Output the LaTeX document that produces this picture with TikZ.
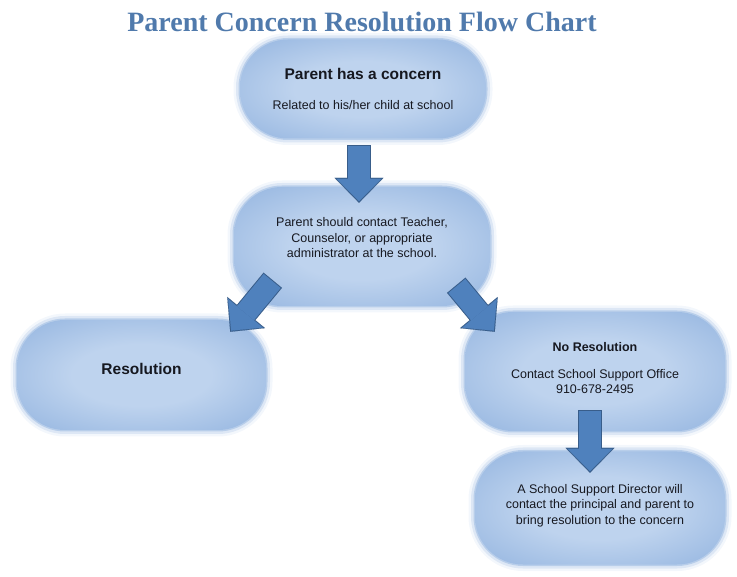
\documentclass[tikz,border=0pt]{standalone}
\usepackage{fontspec}
\setmainfont{Liberation Sans}
\newfontfamily\titlefont{Liberation Serif}
\usetikzlibrary{arrows.meta}

\definecolor{titleblue}{RGB}{80,122,172}
\definecolor{bubbleedge}{RGB}{140,175,221}
\definecolor{bubblemid}{RGB}{190,211,238}
\definecolor{arrowfill}{RGB}{79,129,189}
\definecolor{arrowline}{RGB}{56,93,138}
\definecolor{textdark}{RGB}{22,24,32}

\pgfdeclareradialshading{bubbleglow}{\pgfpoint{0bp}{0bp}}{color(0bp)=(bubblemid); color(14bp)=(bubblemid); color(40bp)=(bubbleedge); color(50bp)=(bubbleedge)}

\newcommand\bubblehead[1]{{\bfseries\fontsize{15.5}{18}\selectfont #1}}

\begin{document}
\begin{tikzpicture}[x=1pt, y=1pt,
                    bubble/.style={shade, shading=bubbleglow, rounded corners=48pt, align=center,
                        text=textdark, font=\fontsize{12.5}{15.5}\selectfont,
                        preaction={draw=bubbleedge, draw opacity=0.1, line width=13pt},
                        preaction={draw=bubbleedge, draw opacity=0.22, line width=8pt},
                        preaction={draw=bubbleedge, draw opacity=0.45, line width=3pt}},
                    blockarrow/.style={draw=arrowfill, line width=22pt, shorten <=1pt, shorten >=1.5pt,
                        -{Triangle[width=45pt, length=22.5pt, line width=0.1pt]},
                        preaction={draw=arrowline, line width=24pt, shorten <=0pt, shorten >=0pt,
                            -{Triangle[width=49pt, length=25pt, line width=0.1pt]}}}]
                \useasboundingbox (0,0) rectangle (737,-577);

                \node (title) [anchor=base, text=titleblue, font=\titlefont\bfseries\fontsize{28}{32}\selectfont]
                    at (362,-32) {Parent Concern Resolution Flow Chart};

                \node (concern) [bubble, minimum width=246pt, minimum height=99pt] at (363,-89)
                    {\bubblehead{Parent has a concern}\\[14pt] Related to his/her child at school};
                \node (contact) [bubble, minimum width=256pt, minimum height=119pt, text depth=18pt] at (362,-246.5)
                    {Parent should contact Teacher,\\ Counselor, or appropriate\\ administrator at the school.};
                \node (resolution) [bubble, minimum width=249pt, minimum height=110pt, text depth=12pt] at (141.5,-375)
                    {\bubblehead{Resolution}};
                \node (noresolution) [bubble, minimum width=260pt, minimum height=119pt, text depth=8pt,
                    font=\fontsize{12.5}{14.5}\selectfont] at (595,-371.5)
                    {\textbf{No Resolution}\\[13pt] Contact School Support Office\\ 910-678-2495};
                \node (director) [bubble, minimum width=250pt, minimum height=113pt, text depth=8pt] at (600,-508)
                    {A School Support Director will\\ contact the principal and parent to\\ bring resolution to the concern};

                \draw [blockarrow] ([xshift=-4pt, yshift=-6.5pt]concern.south) -- ([xshift=-3pt, yshift=-16pt]contact.north);
                \draw [blockarrow] ([xshift=39pt, yshift=26pt]contact.south west) -- ([xshift=-36pt, yshift=-12pt]resolution.north east);
                \draw [blockarrow] ([xshift=-34pt, yshift=21pt]contact.south east) -- ([xshift=30pt, yshift=-20pt]noresolution.north west);
                \draw [blockarrow] ([xshift=-5pt, yshift=21pt]noresolution.south) -- ([xshift=-10pt, yshift=-21.5pt]director.north);
            \end{tikzpicture}
\end{document}
